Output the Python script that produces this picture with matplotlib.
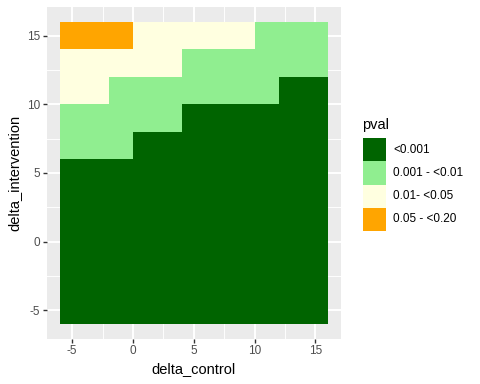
import numpy as np
import matplotlib
matplotlib.use("Agg")
import matplotlib.pyplot as plt
from matplotlib.colors import ListedColormap
from matplotlib.patches import Rectangle

plt.rcParams['font.family'] = ['Liberation Sans', 'DejaVu Sans']
plt.rcParams['axes.unicode_minus'] = False

# tile centres (tiles are 2 units wide)
delta_control = [-5, -3, -1, 1, 3, 5, 7, 9, 11, 13, 15]
delta_intervention = [-5, -3, -1, 1, 3, 5, 7, 9, 11, 13, 15]

# p-value class per tile, rows from delta_intervention = -5 up to 15
# 0 '<0.001', 1 '0.001 - <0.01', 2 '0.01- <0.05', 3 '0.05 - <0.20'
pval_rows = [
    [0, 0, 0, 0, 0, 0, 0, 0, 0, 0, 0],
    [0, 0, 0, 0, 0, 0, 0, 0, 0, 0, 0],
    [0, 0, 0, 0, 0, 0, 0, 0, 0, 0, 0],
    [0, 0, 0, 0, 0, 0, 0, 0, 0, 0, 0],
    [0, 0, 0, 0, 0, 0, 0, 0, 0, 0, 0],
    [0, 0, 0, 0, 0, 0, 0, 0, 0, 0, 0],
    [1, 1, 1, 0, 0, 0, 0, 0, 0, 0, 0],
    [1, 1, 1, 1, 1, 0, 0, 0, 0, 0, 0],
    [2, 2, 1, 1, 1, 1, 1, 1, 1, 0, 0],
    [2, 2, 2, 2, 2, 1, 1, 1, 1, 1, 1],
    [3, 3, 3, 2, 2, 2, 2, 2, 1, 1, 1],
]

pval_labels = ['<0.001', '0.001 - <0.01', '0.01- <0.05', '0.05 - <0.20']
pval_colors = ['#006400', '#90EE90', '#FFFFE0', '#FFA500']

W, H = 480, 384
fig = plt.figure(figsize=(W / 100, H / 100), dpi=100)
fig.patch.set_facecolor('white')

def fx(px):
    return px / W

def fy(py):
    return 1 - py / H

ax = fig.add_axes([fx(46.7), fy(339), fx(341) - fx(46.7), fy(6.7) - fy(339)])
ax.set_facecolor('#EBEBEB')

xc = np.array(delta_control)
yc = np.array(delta_intervention)
xe = np.append(xc - 1, xc[-1] + 1)
ye = np.append(yc - 1, yc[-1] + 1)
cmap = ListedColormap(pval_colors)
ax.pcolormesh(xe, ye, np.array(pval_rows), cmap=cmap, vmin=-0.5, vmax=3.5, zorder=2)

xr = xe[-1] - xe[0]
yr = ye[-1] - ye[0]
ax.set_xlim(xe[0] - 0.05 * xr, xe[-1] + 0.05 * xr)
ax.set_ylim(ye[0] - 0.05 * yr, ye[-1] + 0.05 * yr)

ticks = [-5, 0, 5, 10, 15]
minor = [-2.5, 2.5, 7.5, 12.5]
ax.set_xticks(ticks)
ax.set_yticks(ticks)
ax.set_xticks(minor, minor=True)
ax.set_yticks(minor, minor=True)
ax.grid(which='major', color='white', linewidth=1.37, zorder=1)
ax.grid(which='minor', color='white', linewidth=0.68, zorder=1)
ax.set_axisbelow(True)
ax.tick_params(which='major', length=2.64, width=1.0, color='#333333',
               labelsize=8.45, labelcolor='#4D4D4D', pad=2)
ax.tick_params(which='minor', length=0)
for s in ax.spines.values():
    s.set_visible(False)

ax.set_xlabel('delta_control', fontsize=10.56, labelpad=3)
ax.set_ylabel('delta_intervention', fontsize=10.56, labelpad=4)

# legend drawn by hand, ggplot style
fig.text(fx(362.5), fy(125), 'pval', fontsize=10.56, va='center', ha='left')
key_top = 138.3
key_h = 23.1
for i, (lab, col) in enumerate(zip(pval_labels, pval_colors)):
    top = key_top + i * key_h
    fig.add_artist(Rectangle((fx(363.3), fy(top + key_h)), fx(385.7) - fx(363.3),
                             fy(top) - fy(top + key_h), transform=fig.transFigure,
                             facecolor=col, edgecolor='none'))
    fig.text(fx(393), fy(top + key_h / 2), lab, fontsize=8.45, va='center', ha='left')

fig.savefig('out.png', dpi=100)
